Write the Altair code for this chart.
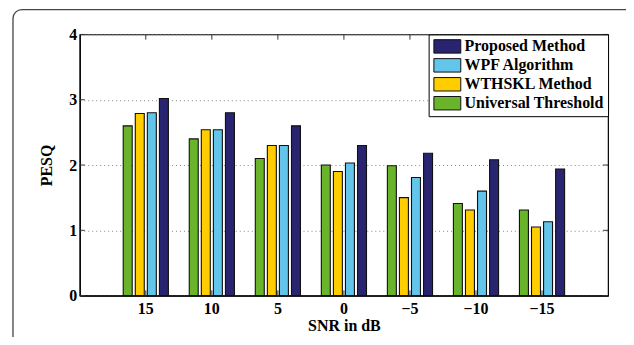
import altair as alt
import pandas as pd

snr = ["15", "10", "5", "0", "\u22125", "\u221210", "\u221215"]
legend_order = ["Proposed Method", "WPF Algorithm", "WTHSKL Method", "Universal Threshold"]
bar_order = ["Universal Threshold", "WTHSKL Method", "WPF Algorithm", "Proposed Method"]
colors = ["#28246f", "#63c5e9", "#ffcd00", "#6ab42b"]

universal = [2.60, 2.40, 2.10, 2.00, 1.99, 1.41, 1.31]
wthskl = [2.79, 2.54, 2.30, 1.90, 1.50, 1.31, 1.05]
wpf = [2.80, 2.54, 2.30, 2.03, 1.81, 1.60, 1.13]
proposed = [3.02, 2.80, 2.60, 2.30, 2.18, 2.08, 1.94]

yticks = [0, 1, 2, 3, 4]

series = {
    "Universal Threshold": universal,
    "WTHSKL Method": wthskl,
    "WPF Algorithm": wpf,
    "Proposed Method": proposed,
}
rows = []
for m, vals in series.items():
    for s, v in zip(snr, vals):
        rows.append({"snr": s, "method": m, "pesq": v})
df = pd.DataFrame(rows)
cat_df = pd.DataFrame({"snr": snr})
ytick_df = pd.DataFrame({"v": yticks})
card_df = pd.DataFrame({"k": [0]})

FONT = "Liberation Serif"
W, H = 530, 262

xscale = alt.Scale(domain=snr, paddingInner=0.316, paddingOuter=0.658)
yscale = alt.Scale(domain=[0, 4], nice=False)

card = alt.Chart(card_df).mark_rect(
    fillOpacity=0, stroke="#444444", strokeWidth=1.3, cornerRadius=9
).encode(
    x=alt.value(-67), x2=alt.value(580), y=alt.value(-25), y2=alt.value(330)
)

bars = alt.Chart(df).mark_bar(stroke="#111111", strokeWidth=1.1, opacity=1).encode(
    x=alt.X("snr:N", scale=xscale, sort=snr,
            axis=alt.Axis(title="SNR in dB", labelAngle=0, tickSize=0, labelPadding=5,
                          titlePadding=1, domainColor="black", domainWidth=1.2)),
    xOffset=alt.XOffset("method:N", sort=bar_order,
                        scale=alt.Scale(domain=bar_order, paddingInner=0.256, paddingOuter=0)),
    y=alt.Y("pesq:Q", scale=yscale,
            axis=alt.Axis(title="PESQ", values=yticks, format="d", tickSize=0, labelPadding=3,
                          titlePadding=14, grid=True, gridDash=[1, 3], gridColor="#888888",
                          gridWidth=1, domainColor="black", domainWidth=1.2)),
    color=alt.Color("method:N", scale=alt.Scale(domain=legend_order, range=colors),
                    title=None,
                    legend=alt.Legend(orient="top-right", offset=0,
                                      symbolType="M-1,-1H3V1H-1Z", symbolSize=182,
                                      symbolStrokeColor="#111111", symbolStrokeWidth=1,
                                      symbolOpacity=1, labelOffset=16, rowPadding=1,
                                      padding=4, strokeColor="black", fillColor="white")),
)

top_ticks = alt.Chart(cat_df).mark_rule(color="#333333", strokeWidth=1).encode(
    x=alt.X("snr:N", sort=snr), y=alt.datum(4), y2=alt.datum(3.92)
)
bottom_ticks = alt.Chart(cat_df).mark_rule(color="#333333", strokeWidth=1).encode(
    x=alt.X("snr:N", sort=snr), y=alt.datum(0), y2=alt.datum(0.08)
)
left_ticks = alt.Chart(ytick_df).mark_rule(color="#333333", strokeWidth=1).encode(
    y=alt.Y("v:Q"), x=alt.value(0), x2=alt.value(5)
)
right_ticks = alt.Chart(ytick_df).mark_rule(color="#333333", strokeWidth=1).encode(
    y=alt.Y("v:Q"), x=alt.value(W - 5), x2=alt.value(W)
)

chart = alt.layer(card, bars, top_ticks, bottom_ticks, left_ticks, right_ticks).properties(
    width=W, height=H,
    background="white",
    autosize=alt.AutoSizeParams(type="none"),
    padding={"left": 72, "top": 26, "right": 18, "bottom": 41},
).configure_view(
    stroke="black", strokeWidth=1.2
).configure_axis(
    labelFont=FONT, labelFontSize=16, labelFontWeight="bold", labelColor="black",
    titleFont=FONT, titleFontSize=16, titleFontWeight="bold", titleColor="black",
).configure_legend(
    labelFont=FONT, labelFontSize=16, labelFontWeight="bold", labelColor="black",
    cornerRadius=0,
)

chart.save("out.html", embed_options={"renderer": "svg", "actions": False})
